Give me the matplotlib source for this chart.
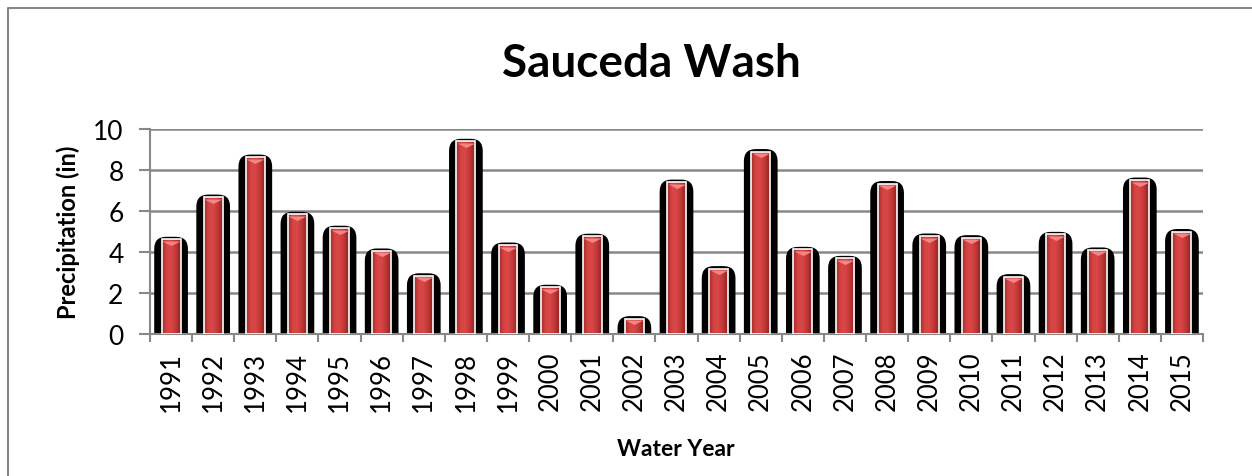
import numpy as np
import matplotlib
matplotlib.use("Agg")
import matplotlib.pyplot as plt
from matplotlib.patches import FancyBboxPatch
from matplotlib.colors import LinearSegmentedColormap
from matplotlib.lines import Line2D
import matplotlib.transforms as mtransforms

# ─── Data ─────────────────────────────────────────────────────────────────────
years = ["1991", "1992", "1993", "1994", "1995", "1996", "1997", "1998", "1999",
         "2000", "2001", "2002", "2003", "2004", "2005", "2006", "2007", "2008",
         "2009", "2010", "2011", "2012", "2013", "2014", "2015"]
precip = [4.62, 6.68, 8.63, 5.84, 5.16, 4.05, 2.84, 9.40, 4.34, 2.28, 4.77,
          0.75, 7.41, 3.19, 8.90, 4.13, 3.69, 7.34, 4.78, 4.70, 2.80, 4.86,
          4.10, 7.51, 5.00]
y_ticks = [0, 2, 4, 6, 8, 10]

GREY = "#888888"
plt.rcParams["font.family"] = ["Lato", "DejaVu Sans"]

FW, FH = 1252, 477
fig = plt.figure(figsize=(FW / 100, FH / 100), dpi=100)
L, R, T, B = 150, 1203, 130, 335
ax = fig.add_axes([L / FW, 1 - B / FH, (R - L) / FW, (B - T) / FH])

n = len(precip)
x = np.arange(n)
ax.set_xlim(-0.5, n - 0.5)
ax.set_ylim(0, 10)

# pixels per data unit, used for the rounded shadow tops
px_x = (R - L) / n
px_y = (B - T) / 10.0
asp = px_x / px_y

# ─── Black shadow behind each bar ────────────────────────────────────────────
r_px = 12
for xi, v in zip(x, precip):
    shadow = FancyBboxPatch((xi - 0.4, -1), 0.8, v + 1 + 2.5 / px_y,
                            boxstyle=f"round,pad=0,rounding_size={r_px / px_x}",
                            mutation_aspect=asp, fc="black", ec="none", zorder=2)
    ax.add_patch(shadow)

# ─── Red bars with a horizontal gradient ─────────────────────────────────────
bars = ax.bar(x, precip, width=0.45, color="#c63a3a", edgecolor="none", zorder=3)
cmap = LinearSegmentedColormap.from_list(
    "barred", ["#a52a2a", "#d64444", "#d84646", "#c03636", "#8e2222"])
grad = np.linspace(0, 1, 64).reshape(1, -1)
for b in bars:
    x0, w, h = b.get_x(), b.get_width(), b.get_height()
    im = ax.imshow(grad, extent=[x0, x0 + w, 0, h], aspect="auto", cmap=cmap,
                   zorder=3.2, interpolation="bilinear")
    im.set_clip_path(b)
ax.bar(x, precip, width=0.45, fill=False, edgecolor="white", linewidth=1.2, zorder=4)

# pink triangle highlight at the bar top
tri = [(-1, 0), (1, 0), (0, -0.5)]
off = mtransforms.ScaledTranslation(0, -1.5 / 100, fig.dpi_scale_trans)
ax.plot(x, precip, ls="none", marker=tri, markersize=13, color="#f58484",
        markeredgecolor="none", zorder=5, transform=ax.transData + off)

ax.set_xlim(-0.5, n - 0.5)
ax.set_ylim(0, 10)

# ─── Axes styling ────────────────────────────────────────────────────────────
ax.set_yticks(y_ticks)
ax.set_xticks(x, years, rotation=90)
ax.set_xticks(np.arange(n + 1) - 0.5, minor=True)
ax.tick_params(axis="x", which="major", length=0, pad=12, labelsize=18.5)
ax.tick_params(axis="x", which="minor", length=6, width=1.5, color=GREY)
ax.tick_params(axis="y", length=8, width=1.5, color=GREY, pad=11, labelsize=19)
ax.yaxis.grid(True, color=GREY, linewidth=1.8)
ax.set_axisbelow(True)
for s in ("top", "right"):
    ax.spines[s].set_visible(False)
for s in ("left", "bottom"):
    ax.spines[s].set_color(GREY)
    ax.spines[s].set_linewidth(1.5)

ax.set_ylabel("Precipitation (in)", fontsize=17, fontweight="bold")
ax.yaxis.set_label_coords((80 - L) / (R - L), 0.5)
fig.text(676 / FW, 1 - 450 / FH, "Water Year", ha="center", va="center",
         fontsize=16.5, fontweight="bold")
fig.text(651 / FW, 1 - 77 / FH, "Sauceda Wash", ha="center", va="baseline",
         fontsize=33, fontweight="bold")

# outer chart border (left and top only)
fig.add_artist(Line2D([8 / FW, 8 / FW, 1], [0, 1 - 9 / FH, 1 - 9 / FH],
                      transform=fig.transFigure, color=GREY, lw=1.5))

fig.savefig("out.png", dpi=100)
